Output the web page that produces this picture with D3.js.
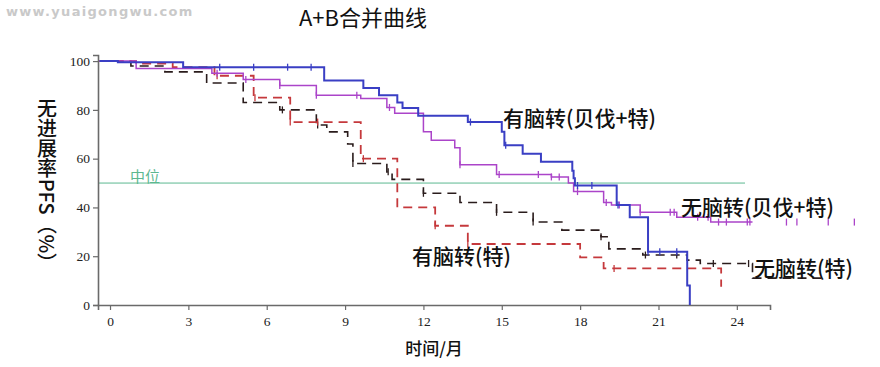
<!DOCTYPE html>
<html>
<head>
<meta charset="utf-8">
<script src="https://cdn.jsdelivr.net/npm/d3@7/dist/d3.min.js"></script>
<style>
  body { margin: 0; background: #fff; }
  svg text { font-family: "Noto Sans CJK SC", "Noto Sans", sans-serif; }
  .tick text { font-family: "Liberation Serif", serif; font-size: 13.5px; fill: #222; }
</style>
</head>
<body>
<div id="chart"></div>
<script>
// 画布
const width = 880;
const height = 367;

// 坐标刻度
const xTicks = [0, 3, 6, 9, 12, 15, 18, 21, 24];
const yTicks = [0, 20, 40, 60, 80, 100];

// 有脑转(贝伐+特) - 蓝色实线
const blueT = [-0.4, 0.3, 2.8, 8.2, 9.7, 10.3, 11.0, 11.2, 11.8, 13.7, 15.0, 15.1, 15.8, 16.5, 17.7, 17.75, 17.8, 19.4, 19.9, 20.6, 22.1, 22.2];
const blueS = [100, 99.5, 97.5, 92, 89, 86, 83, 80.8, 77.6, 75, 71, 65.5, 62, 58.7, 55, 52, 49, 41, 36, 21.8, 8, 0];
const blueEnd = 22.2;
const blueCens = [4.2, 5.5, 6.8, 7.7, 13.8, 15.15, 17.9, 18.45, 19.45, 20.6, 21.05, 21.7];

// 无脑转(贝伐+特) - 紫色实线
const purpleT = [-0.4, 1.0, 3.9, 5.1, 6.5, 7.9, 9.6, 10.6, 10.9, 12.0, 12.3, 13.2, 13.4, 14.8, 16.9, 17.55, 17.75, 18.9, 19.2, 20.3, 21.7, 23.0];
const purpleS = [100, 97, 95, 92.5, 90, 86, 84.7, 81, 78.6, 71, 67.5, 64.5, 57.5, 53.5, 52.5, 50, 46.5, 42, 41, 38, 36, 34];
const purpleEnd = 24.6;
const purpleCens = [4.1, 5.2, 6.5, 7.9, 9.45, 10.7, 13.4, 14.9, 16.4, 16.9, 17.2, 17.9, 19.0, 19.5, 20.3, 21.45, 21.6, 22.5, 22.9, 23.3, 23.6, 24.4, 24.5, 25.9, 26.3, 27.5, 28.5];

// 有脑转(特) - 红色虚线
const redT = [-0.4, 1.0, 2.4, 4.0, 5.5, 6.9, 9.6, 11.0, 12.45, 13.7, 18.0, 18.9, 23.4];
const redS = [100, 99, 97.5, 94, 85, 75, 60, 40, 32.5, 25, 19.5, 15, 7.5];
const redEnd = 23.4;
const redCens = [4.1, 5.55, 6.9, 7.95, 9.7, 12.45, 13.7, 19.3];

// 无脑转(特) - 黑色虚线
const blackT = [-0.4, 0.8, 2.1, 3.7, 5.1, 6.5, 7.9, 8.3, 9.1, 9.3, 10.6, 10.8, 12.0, 13.4, 14.8, 16.2, 17.3, 18.8, 19.1, 20.4, 22.1, 22.6, 24.6];
const blackS = [100, 98, 95.6, 91, 83, 80, 73.8, 71, 66, 58, 54.6, 51.5, 45.8, 42, 38, 34, 30.7, 28, 23, 20.5, 18.4, 17, 11];
const blackEnd = 27.3;
const blackCens = [6.6, 7.95, 9.3, 10.65, 12.0, 14.8, 16.2, 18.8, 20.5, 21.7, 23.1, 24.45];

const series = [
  { name: "无脑转(特)", t: blackT, s: blackS, end: blackEnd, cens: blackCens, color: "#2a1c1c", width: 1.6, dash: "9,6" },
  { name: "有脑转(特)", t: redT, s: redS, end: redEnd, cens: redCens, color: "#c5393c", width: 1.8, dash: "9,6" },
  { name: "无脑转(贝伐+特)", t: purpleT, s: purpleS, end: purpleEnd, cens: purpleCens, color: "#ab44c9", width: 1.5, dash: null },
  { name: "有脑转(贝伐+特)", t: blueT, s: blueS, end: blueEnd, cens: blueCens, color: "#3a3fc4", width: 2, dash: null }
];

const svg = d3.select("#chart").append("svg")
  .attr("width", width)
  .attr("height", height);

// 比例尺
const x = d3.scaleLinear().domain([-0.46, 25.27]).range([98, 770]);
const y = d3.scaleLinear().domain([0, 102.5]).range([305, 55]);

// 水印
svg.append("text")
  .attr("x", 6).attr("y", 16)
  .style("font-family", "'DejaVu Sans', sans-serif")
  .style("font-weight", "bold")
  .style("font-size", "13px")
  .style("letter-spacing", "1.3px")
  .style("fill", "#c9c9c9")
  .text("www.yuaigongwu.com");

// 标题
svg.append("text")
  .attr("x", 363).attr("y", 26)
  .attr("text-anchor", "middle")
  .style("font-size", "22px")
  .style("fill", "#111")
  .text("A+B合并曲线");

// 中位线
svg.append("line")
  .attr("x1", x(-0.46)).attr("x2", 745)
  .attr("y1", y(50)).attr("y2", y(50))
  .attr("stroke", "#5cb890")
  .attr("stroke-width", 1);

svg.append("text")
  .attr("x", 130).attr("y", y(50) - 1)
  .style("font-size", "15px")
  .style("fill", "#5cb890")
  .text("中位");

// 坐标轴
const xAxis = svg.append("g")
  .attr("transform", `translate(0, ${y(0)})`)
  .call(d3.axisBottom(x).tickValues(xTicks).tickSize(5).tickPadding(6));

const yAxis = svg.append("g")
  .attr("transform", `translate(${x(-0.46)}, 0)`)
  .call(d3.axisLeft(y).tickValues(yTicks).tickSize(5).tickPadding(3));

[xAxis, yAxis].forEach(a => {
  a.select(".domain").attr("stroke", "#6a6a6a").attr("stroke-width", 1.6);
  a.selectAll(".tick line").attr("stroke", "#6a6a6a").attr("stroke-width", 1.2);
});

// 生存曲线
const line = d3.line()
  .curve(d3.curveStepAfter)
  .x(d => x(d[0]))
  .y(d => y(d[1]));

function survAt(ser, t) {
  let v = ser.s[0];
  ser.t.forEach((tt, i) => { if (tt <= t) v = ser.s[i]; });
  return v;
}

series.forEach(ser => {
  const pts = ser.t.map((t, i) => [t, ser.s[i]]);
  if (ser.end > ser.t[ser.t.length - 1]) pts.push([ser.end, ser.s[ser.s.length - 1]]);

  svg.append("path")
    .attr("d", line(pts))
    .attr("fill", "none")
    .attr("stroke", ser.color)
    .attr("stroke-width", ser.width)
    .attr("stroke-dasharray", ser.dash);

  // 删失标记
  svg.append("g").selectAll("line")
    .data(ser.cens)
    .enter()
    .append("line")
    .attr("x1", d => x(d)).attr("x2", d => x(d))
    .attr("y1", d => y(survAt(ser, d)) - 3.5)
    .attr("y2", d => y(survAt(ser, d)) + 3.5)
    .attr("stroke", ser.color)
    .attr("stroke-width", 1.3);
});

// 曲线标签
const labels = [
  { text: "有脑转(贝伐+特)", x: 503, y: 126 },
  { text: "无脑转(贝伐+特)", x: 681, y: 215 },
  { text: "有脑转(特)", x: 412, y: 264 },
  { text: "无脑转(特)", x: 754, y: 276 }
];

svg.append("g").selectAll("text")
  .data(labels)
  .enter()
  .append("text")
  .attr("x", d => d.x)
  .attr("y", d => d.y)
  .style("font-size", "21px")
  .style("font-weight", "500")
  .style("fill", "#111")
  .text(d => d.text);

// 轴标题
svg.append("text")
  .attr("x", 434).attr("y", 355)
  .attr("text-anchor", "middle")
  .style("font-size", "17px")
  .style("font-weight", "500")
  .style("fill", "#111")
  .text("时间/月");

svg.append("text")
  .attr("x", 47).attr("y", 186)
  .attr("text-anchor", "middle")
  .style("writing-mode", "vertical-rl")
  .style("font-size", "20px")
  .style("font-weight", "500")
  .style("fill", "#111")
  .text("无进展率PFS（%）");
</script>
</body>
</html>
